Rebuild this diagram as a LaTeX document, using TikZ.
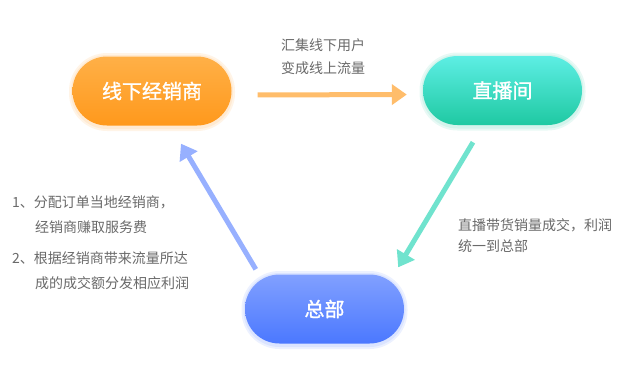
\documentclass[tikz,border=0pt]{standalone}
\usepackage{fontspec}
\setmainfont{Noto Sans CJK SC}
\newfontfamily\cjk{Noto Sans CJK SC}
\newfontfamily\cjkb[FakeBold=1.3]{Noto Sans CJK SC}
\usetikzlibrary{arrows.meta,calc}
\definecolor{txtgray}{HTML}{6A6A6A}
\definecolor{orT}{HTML}{FFB047}
\definecolor{orB}{HTML}{FF991C}
\definecolor{teT}{HTML}{5DEEE4}
\definecolor{teB}{HTML}{1FC9A2}
\definecolor{blT}{HTML}{81A0FF}
\definecolor{blB}{HTML}{4B78FF}
\definecolor{orA}{HTML}{FFBD6B}
\definecolor{teA}{HTML}{70E3CE}
\definecolor{blA}{HTML}{97B0FF}
\tikzset{
  pill/.style={rectangle, rounded corners=34.5pt, minimum width=159pt, minimum height=69pt,
    inner sep=0pt, text=white, font=\cjkb\fontsize{20}{24}\selectfont},
  glow/.style={rounded corners=38pt, fill=#1, opacity=0.10, draw=none},
  note/.style={anchor=west, inner sep=0pt, text=txtgray, font=\cjk\fontsize{14}{16}\selectfont},
  flow/.style={line width=5pt, draw=#1, -{Triangle[length=15pt,width=20pt]}},
}
\begin{document}
\begin{tikzpicture}[x=1pt,y=-1pt]
\useasboundingbox (0,0) rectangle (630,376);
\fill[white] (0,0) rectangle (630,376);
% glows
\foreach \c/\x/\y in {orB/152/91, teB/502.5/90.5, blB/324.5/309}{
  \fill[glow=\c] (\x-83,\y-38) rectangle (\x+83,\y+40);
  \fill[glow=\c, rounded corners=36pt] (\x-81,\y-36) rectangle (\x+81,\y+38);
}
\node[pill, top color=orT, bottom color=orB] (dealer) at (152,91) {线下经销商};
\node[pill, top color=teT, bottom color=teB] (live) at (502.5,90.5) {直播间};
\node[pill, top color=blT, bottom color=blB] (hq) at (324.5,309) {总部};

% connectors
\draw[flow=orA, shorten <=26pt, shorten >=16pt] ([yshift=-4pt]dealer.east) -- ([yshift=-4pt]live.west);
\coordinate (t1) at ([shift={(-29.5,17)}]live.south);
\coordinate (t2) at ([shift={(-6,-7)}]hq.north east);
\draw[flow=teA] (t1) -- (t2);
\coordinate (b1) at ([shift={(11,-5)}]hq.north west);
\coordinate (b2) at ([shift={(29,18)}]dealer.south);
\draw[flow=blA] (b1) -- (b2);

% labels
\node[note] (l1) at (281,45) {汇集线下用户};
\node[note] (l2) at (281,68) {变成线上流量};
\node[note] (r1) at (458,225) {直播带货销量成交，利润};
\node[note] (r2) at (458,246) {统一到总部};
\node[note] (n1) at (12,202) {1、分配订单当地经销商，};
\node[note] (n2) at (35,227) {经销商赚取服务费};
\node[note] (n3) at (12,258) {2、根据经销商带来流量所达};
\node[note] (n4) at (35,283) {成的成交额分发相应利润};
\end{tikzpicture}
\end{document}
